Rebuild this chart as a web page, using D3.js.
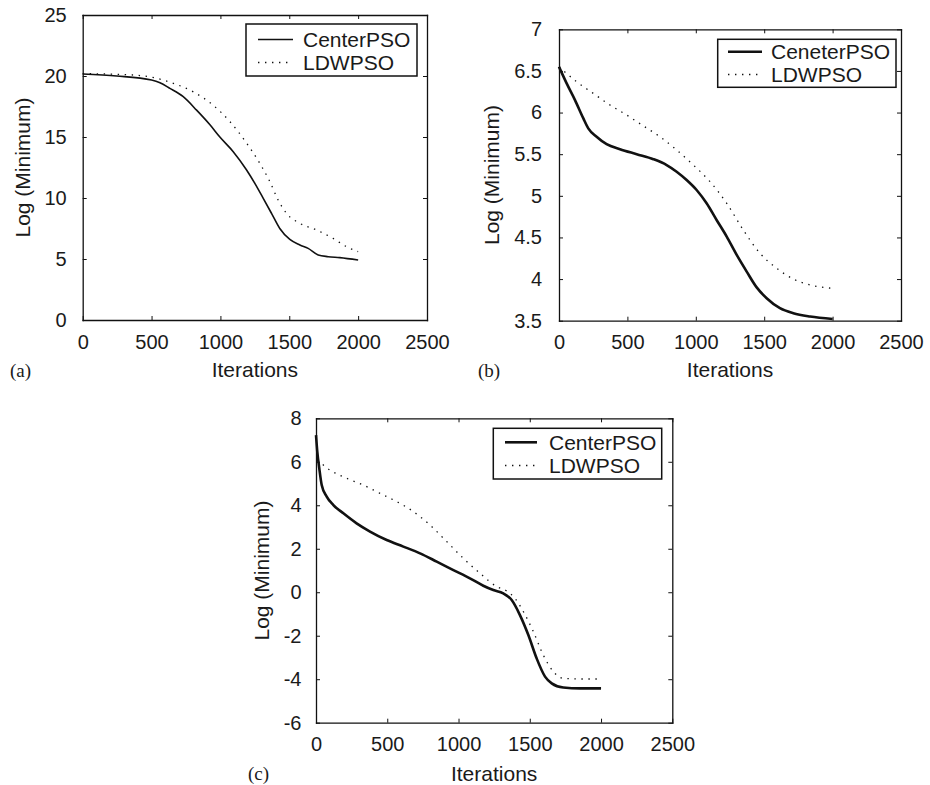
<!DOCTYPE html>
<html><head><meta charset="utf-8">
<script src="https://cdn.jsdelivr.net/npm/d3@7/dist/d3.min.js"></script>
<style>
html,body{margin:0;padding:0;background:#fff;}
svg text{font-family:"Liberation Sans",Arial,sans-serif;fill:#1a1a1a;}
</style></head>
<body>
<svg id="chart" width="930" height="785"></svg>
<script>
// ---------- DATA ----------
const xTicks = [0, 500, 1000, 1500, 2000, 2500];

// Panel (a)
const aTicksY = [0, 5, 10, 15, 20, 25];
const aCenterIter = [0, 247, 500, 561, 633, 730, 827, 924, 996, 1093, 1190, 1250, 1311, 1371, 1431, 1504, 1577, 1637, 1710, 1782, 1867, 2000];
const aCenterVal  = [20.16, 20.0, 19.67, 19.45, 18.99, 18.3, 17.2, 16.0, 15.0, 13.8, 12.3, 11.2, 9.97, 8.74, 7.5, 6.6, 6.15, 5.87, 5.33, 5.19, 5.11, 4.92];
const aLdwIter = [0, 368, 500, 658, 803, 948, 1069, 1190, 1286, 1359, 1419, 1480, 1577, 1697, 1818, 1915, 2000];
const aLdwVal  = [20.2, 20.08, 19.9, 19.4, 18.7, 17.6, 16.26, 14.5, 12.84, 11.34, 9.84, 8.74, 7.92, 7.38, 6.69, 6.01, 5.6];
const aLegend = ["CenterPSO", "LDWPSO"];

// Panel (b)
const bTicksY = [3.5, 4, 4.5, 5, 5.5, 6, 6.5, 7];
const bCenterIter = [0, 56, 117, 178, 214, 275, 348, 446, 568, 690, 787, 860, 933, 1006, 1079, 1152, 1226, 1299, 1372, 1445, 1518, 1615, 1713, 1835, 2000];
const bCenterVal  = [6.55, 6.35, 6.15, 5.93, 5.81, 5.71, 5.62, 5.56, 5.50, 5.44, 5.37, 5.29, 5.19, 5.07, 4.91, 4.71, 4.51, 4.29, 4.09, 3.90, 3.77, 3.65, 3.59, 3.55, 3.52];
const bLdwIter = [0, 129, 251, 373, 495, 616, 738, 860, 982, 1104, 1226, 1347, 1469, 1591, 1713, 1835, 1990];
const bLdwVal  = [6.55, 6.37, 6.23, 6.09, 5.97, 5.84, 5.71, 5.55, 5.37, 5.17, 4.91, 4.59, 4.31, 4.13, 4.0, 3.93, 3.89];
const bLegend = ["CeneterPSO", "LDWPSO"];

// Panel (c)
const cTicksY = [-6, -4, -2, 0, 2, 4, 6, 8];
const cCenterIter = [0, 9, 23, 40, 75, 122, 192, 285, 379, 496, 613, 730, 847, 964, 1080, 1174, 1244, 1314, 1373, 1431, 1490, 1548, 1607, 1654, 1735, 1852, 2000];
const cCenterVal  = [7.23, 6.47, 5.7, 4.93, 4.4, 4.01, 3.63, 3.17, 2.79, 2.40, 2.10, 1.79, 1.41, 1.02, 0.64, 0.30, 0.10, -0.05, -0.36, -1.05, -1.97, -3.04, -3.88, -4.19, -4.38, -4.42, -4.42];
const cLdwIter = [10, 98, 215, 332, 449, 566, 683, 800, 917, 1034, 1151, 1268, 1338, 1396, 1455, 1525, 1595, 1665, 1735, 1852, 2000];
const cLdwVal  = [6.08, 5.62, 5.24, 4.93, 4.55, 4.17, 3.71, 3.09, 2.33, 1.56, 0.87, 0.26, 0.06, -0.28, -0.89, -1.81, -2.89, -3.65, -3.96, -3.99, -3.99];
const cLegend = ["CenterPSO", "LDWPSO"];

// ---------- LAYOUT ----------
const panels = [
  {tag:"(a)", yDomain:[0,25], yTicks:aTicksY, legend:aLegend,
   s1:[aCenterIter,aCenterVal], s2:[aLdwIter,aLdwVal],
   L:82.7, R:427, T:15, B:320, lw:1.6, ypad:16, ylabX:23,
   xlabY:370, tagX:10, tagY:370,
   box:{x:246, y:24, w:171, h:52, r1:39.5, r2:62.5, s0:258, s1:293, tx:303}},
  {tag:"(b)", yDomain:[3.5,7], yTicks:bTicksY, legend:bLegend,
   s1:[bCenterIter,bCenterVal], s2:[bLdwIter,bLdwVal],
   L:559, R:901, T:29.3, B:320.7, lw:2.6, ypad:17, ylabX:491.7,
   xlabY:370, tagX:478, tagY:370,
   box:{x:717.7, y:39.3, w:178.3, h:48, r1:51.7, r2:74.5, s0:728, s1:762, tx:771}},
  {tag:"(c)", yDomain:[-6,8], yTicks:cTicksY, legend:cLegend,
   s1:[cCenterIter,cCenterVal], s2:[cLdwIter,cLdwVal],
   L:316, R:672.3, T:418.3, B:722.7, lw:2.6, ypad:14.5, ylabX:261.7,
   xlabY:773.3, tagX:248, tagY:773,
   box:{x:493.3, y:428.3, w:168.4, h:50.7, r1:442.3, r2:465.5, s0:505, s1:537, tx:549}}
];

const svg = d3.select("#chart");
const ink = "#111";
const dotDash = "1.4 5.6";

panels.forEach(p => {
  const x = d3.scaleLinear().domain([0,2500]).range([p.L, p.R]);
  const y = d3.scaleLinear().domain(p.yDomain).range([p.B, p.T]);
  const g = svg.append("g");

  const fmt = d => String(d);
  const styleAxis = sel => {
    sel.selectAll("path.domain").attr("stroke", ink).attr("stroke-width", 1.3);
    sel.selectAll(".tick line").attr("stroke", ink).attr("stroke-width", 1);
    sel.selectAll(".tick text").style("font-size","20px").attr("fill","#1a1a1a");
  };

  g.append("g").attr("transform",`translate(0,${p.B})`)
    .call(d3.axisBottom(x).tickValues(xTicks).tickFormat(fmt).tickSizeInner(-4).tickSizeOuter(0).tickPadding(14.5))
    .call(styleAxis);
  g.append("g").attr("transform",`translate(0,${p.T})`)
    .call(d3.axisTop(x).tickValues(xTicks).tickFormat("").tickSizeInner(-4).tickSizeOuter(0))
    .call(styleAxis);
  g.append("g").attr("transform",`translate(${p.L},0)`)
    .call(d3.axisLeft(y).tickValues(p.yTicks).tickFormat(fmt).tickSizeInner(-4).tickSizeOuter(0).tickPadding(p.ypad))
    .call(styleAxis);
  g.append("g").attr("transform",`translate(${p.R},0)`)
    .call(d3.axisRight(y).tickValues(p.yTicks).tickFormat("").tickSizeInner(-4).tickSizeOuter(0))
    .call(styleAxis);
  g.selectAll(".domain").attr("stroke-linecap","square");

  const line = d3.line().x(d => x(d[0])).y(d => y(d[1])).curve(d3.curveMonotoneX);
  const zip = s => s[0].map((v,i) => [v, s[1][i]]);

  g.append("path").datum(zip(p.s2)).attr("d", line)
    .attr("fill","none").attr("stroke",ink).attr("stroke-width",1.3)
    .attr("stroke-dasharray", dotDash);
  g.append("path").datum(zip(p.s1)).attr("d", line)
    .attr("fill","none").attr("stroke",ink).attr("stroke-width",p.lw)
    .attr("stroke-linejoin","round");

  // axis labels
  g.append("text").attr("x",(p.L+p.R)/2).attr("y",p.xlabY).attr("dy","0.35em")
    .attr("text-anchor","middle").style("font-size","21px").text("Iterations");
  g.append("text").attr("transform",`translate(${p.ylabX},${(p.T+p.B)/2}) rotate(-90)`)
    .attr("dy","0.35em").attr("text-anchor","middle").style("font-size","21px").text("Log (Minimum)");
  g.append("text").attr("x",p.tagX).attr("y",p.tagY).attr("dy","0.35em")
    .style("font-family","'Liberation Serif','Times New Roman',serif").style("font-size","19px").text(p.tag);

  // legend
  const b = p.box;
  g.append("rect").attr("x",b.x).attr("y",b.y).attr("width",b.w).attr("height",b.h)
    .attr("fill","#fff").attr("stroke",ink).attr("stroke-width",1.5);
  g.append("line").attr("x1",b.s0).attr("x2",b.s1).attr("y1",b.r1).attr("y2",b.r1)
    .attr("stroke",ink).attr("stroke-width",p.lw);
  g.append("line").attr("x1",b.s0).attr("x2",b.s1).attr("y1",b.r2).attr("y2",b.r2)
    .attr("stroke",ink).attr("stroke-width",1.3).attr("stroke-dasharray",dotDash);
  g.append("text").attr("x",b.tx).attr("y",b.r1).attr("dy","0.35em").style("font-size","21px").text(p.legend[0]);
  g.append("text").attr("x",b.tx).attr("y",b.r2).attr("dy","0.35em").style("font-size","21px").text(p.legend[1]);
});
</script>
</body></html>
